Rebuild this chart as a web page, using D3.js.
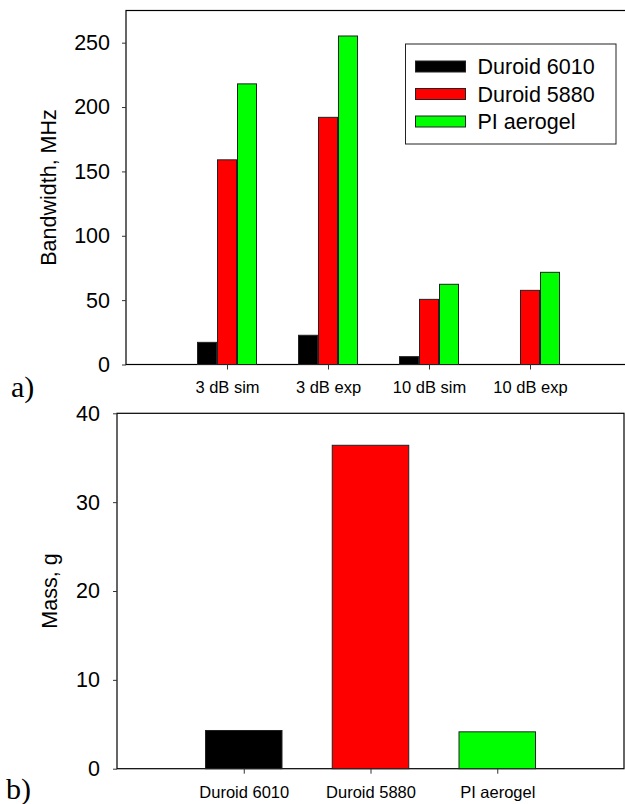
<!DOCTYPE html>
<html>
<head>
<meta charset="utf-8">
<script src="https://cdn.jsdelivr.net/npm/d3@7"></script>
<style>
  body { margin: 0; background: #fff; }
  svg { display: block; font-family: "Liberation Sans", Arial, sans-serif; }
</style>
</head>
<body>
<svg id="chart" width="625" height="804"></svg>
<script>
// panel a) bandwidth
const categories = ["3 dB sim", "3 dB exp", "10 dB sim", "10 dB exp"];
const seriesNames = ["Duroid 6010", "Duroid 5880", "PI aerogel"];
const duroid6010 = [17.2, 22.7, 6.1, 0];
const duroid5880 = [159, 192, 50.6, 57.6];
const piAerogel = [218, 255.2, 62.3, 71.6];
const bandwidthTicks = [0, 50, 100, 150, 200, 250];

// panel b) mass
const materials = ["Duroid 6010", "Duroid 5880", "PI aerogel"];
const massValues = [4.3, 36.4, 4.15];
const massTicks = [0, 10, 20, 30, 40];

const colors = ["#000000", "#ff0000", "#00ff00"];

const svg = d3.select("#chart");

// ---------- panel a ----------
const A = { left: 126, right: 631, top: 10.5, bottom: 364.5 };

const xA = d3.scalePoint()
  .domain(categories)
  .range([A.left, A.right])
  .padding(1);

const yA = d3.scaleLinear()
  .domain([0, 275])
  .range([A.bottom, A.top]);

const inner = d3.scaleBand()
  .domain(seriesNames)
  .range([-30, 30]);

const seriesData = [duroid6010, duroid5880, piAerogel];
const rowsA = categories.map((c, i) => ({
  cat: c,
  vals: seriesNames.map((s, j) => ({ name: s, value: seriesData[j][i], color: colors[j] }))
}));

const gA = svg.append("g");

gA.append("rect")
  .attr("x", A.left).attr("y", A.top)
  .attr("width", A.right - A.left).attr("height", A.bottom - A.top)
  .attr("fill", "none").attr("stroke", "#000").attr("stroke-width", 1.2);

gA.selectAll("g.grp")
  .data(rowsA)
  .enter()
  .append("g")
  .attr("class", "grp")
  .attr("transform", d => `translate(${xA(d.cat)},0)`)
  .selectAll("rect")
  .data(d => d.vals.filter(v => v.value > 0))
  .enter()
  .append("rect")
  .attr("x", d => inner(d.name) + 0.5)
  .attr("y", d => yA(d.value))
  .attr("width", inner.bandwidth() - 1)
  .attr("height", d => yA(0) - yA(d.value))
  .attr("fill", d => d.color)
  .attr("stroke", "#222")
  .attr("stroke-width", 1);

const yAxisA = gA.append("g")
  .attr("transform", `translate(${A.left},0)`)
  .call(d3.axisLeft(yA).tickValues(bandwidthTicks).tickSize(4).tickPadding(12));

const xAxisA = gA.append("g")
  .attr("transform", `translate(0,${A.bottom})`)
  .call(d3.axisBottom(xA).tickSize(5).tickPadding(12));

[yAxisA, xAxisA].forEach(ax => {
  ax.select(".domain").remove();
  ax.selectAll("line").attr("stroke", "#333");
});
yAxisA.selectAll("text").attr("font-size", 21.5).attr("fill", "#000");
xAxisA.selectAll("text").attr("font-size", 16.5).attr("fill", "#000");

gA.append("text")
  .attr("transform", `translate(56,${(A.top + A.bottom) / 2}) rotate(-90)`)
  .attr("text-anchor", "middle")
  .attr("font-size", 21.5)
  .text("Bandwidth, MHz");

// legend
const legend = gA.append("g").attr("transform", "translate(405.5,44)");
legend.append("rect")
  .attr("width", 210.5).attr("height", 100)
  .attr("fill", "#fff").attr("stroke", "#222").attr("stroke-width", 1);
const li = legend.selectAll("g.item")
  .data(seriesNames)
  .enter()
  .append("g")
  .attr("class", "item")
  .attr("transform", (d, i) => `translate(10,${22.5 + i * 27.5})`);
li.append("rect")
  .attr("x", 0).attr("y", -5.5)
  .attr("width", 50).attr("height", 11)
  .attr("fill", (d, i) => colors[i])
  .attr("stroke", "#222").attr("stroke-width", 1);
li.append("text")
  .attr("x", 62).attr("dy", "0.36em")
  .attr("font-size", 21.5)
  .text(d => d);

svg.append("text")
  .attr("x", 11).attr("y", 396.5)
  .attr("font-family", "Liberation Serif, Times New Roman, serif")
  .attr("font-size", 30)
  .text("a)");

// ---------- panel b ----------
const B = { left: 117, right: 624, top: 413.3, bottom: 768.7 };

const xB = d3.scalePoint()
  .domain(materials)
  .range([B.left, B.right])
  .padding(1);

const yB = d3.scaleLinear()
  .domain([0, 40])
  .range([B.bottom, B.top]);

const gB = svg.append("g");

gB.append("rect")
  .attr("x", B.left).attr("y", B.top)
  .attr("width", B.right - B.left).attr("height", B.bottom - B.top)
  .attr("fill", "none").attr("stroke", "#000").attr("stroke-width", 1.2);

const barW = 76.5;
gB.selectAll("rect.bar")
  .data(materials.map((m, i) => ({ name: m, value: massValues[i], color: colors[i] })))
  .enter()
  .append("rect")
  .attr("class", "bar")
  .attr("x", d => xB(d.name) - barW / 2)
  .attr("y", d => yB(d.value))
  .attr("width", barW)
  .attr("height", d => yB(0) - yB(d.value))
  .attr("fill", d => d.color)
  .attr("stroke", "#222")
  .attr("stroke-width", 1);

const yAxisB = gB.append("g")
  .attr("transform", `translate(${B.left},0)`)
  .call(d3.axisLeft(yB).tickValues(massTicks).tickSize(4).tickPadding(13));

const xAxisB = gB.append("g")
  .attr("transform", `translate(0,${B.bottom})`)
  .call(d3.axisBottom(xB).tickSize(5).tickPadding(12.5));

[yAxisB, xAxisB].forEach(ax => {
  ax.select(".domain").remove();
  ax.selectAll("line").attr("stroke", "#333");
});
yAxisB.selectAll("text").attr("font-size", 21.5).attr("fill", "#000");
xAxisB.selectAll("text").attr("font-size", 16.5).attr("fill", "#000");

gB.append("text")
  .attr("transform", `translate(57,${(B.top + B.bottom) / 2}) rotate(-90)`)
  .attr("text-anchor", "middle")
  .attr("font-size", 21.5)
  .text("Mass, g");

svg.append("text")
  .attr("x", 6).attr("y", 798.5)
  .attr("font-family", "Liberation Serif, Times New Roman, serif")
  .attr("font-size", 30)
  .text("b)");
</script>
</body>
</html>
